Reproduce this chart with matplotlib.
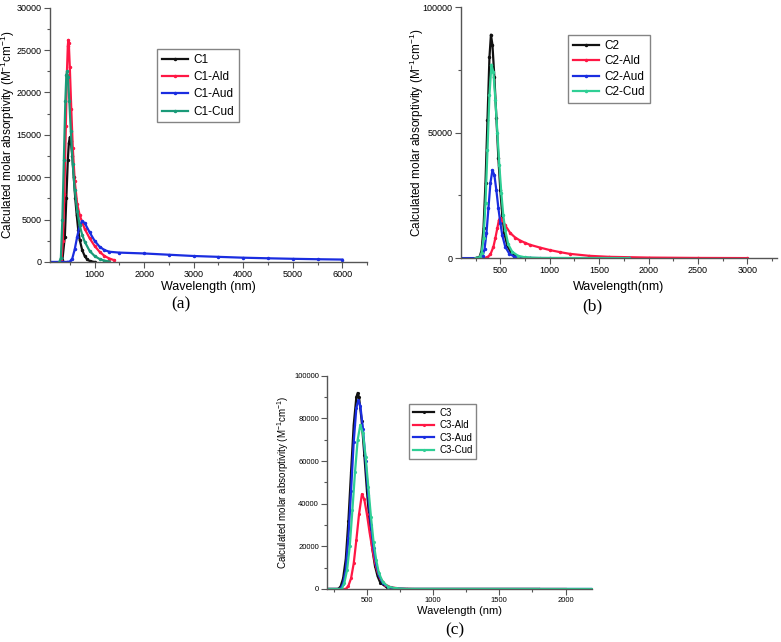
import numpy as np
import matplotlib
matplotlib.use("Agg")
import matplotlib.pyplot as plt
from matplotlib.ticker import MultipleLocator

plt.rcParams['font.family'] = ['Liberation Sans', 'DejaVu Sans']
plt.rcParams['mathtext.default'] = 'regular'

# ---- panel (a) data: wavelength (nm), absorptivity
c1_x = [300, 350, 400, 430, 460, 480, 500, 520, 550, 580, 610, 640, 670, 700, 750, 800, 850, 900, 950, 1000]
c1_y = [0, 200, 3000, 7500, 12000, 14000, 14700, 14300, 12500, 10000, 7500, 5500, 3800, 2600, 1400, 700, 300, 120, 40, 0]
c1ald_x = [300, 330, 360, 390, 420, 440, 460, 470, 480, 500, 530, 560, 600, 650, 700, 750, 800, 900, 1000, 1100, 1200, 1300, 1400]
c1ald_y = [0, 200, 2500, 8000, 16000, 22000, 25500, 26200, 25800, 23000, 18000, 13500, 9500, 6800, 5500, 4700, 3900, 2800, 1900, 1200, 700, 400, 200]
c1aud_x = [100, 450, 500, 550, 600, 650, 700, 750, 800, 900, 1000, 1100, 1200, 1300, 1500, 2000, 2500, 3000, 3500, 4000, 4500, 5000, 5500, 6000]
c1aud_y = [0, 0, 50, 400, 1500, 3000, 4300, 4800, 4600, 3500, 2500, 1800, 1400, 1200, 1100, 1000, 850, 700, 600, 500, 430, 370, 320, 280]
c1cud_x = [290, 320, 350, 380, 410, 430, 445, 460, 490, 520, 560, 600, 650, 700, 750, 800, 900, 1000, 1100, 1200, 1300]
c1cud_y = [0, 500, 5000, 12000, 19000, 22000, 22500, 21800, 19000, 15500, 11500, 8500, 6000, 4300, 3200, 2400, 1300, 700, 350, 150, 50]

# ---- panel (b)
c2_x = [250, 290, 310, 330, 350, 370, 390, 405, 420, 440, 460, 480, 500, 520, 540, 570, 610, 660, 720, 800]
c2_y = [0, 500, 3000, 12000, 30000, 55000, 80000, 89000, 85000, 72000, 56000, 40000, 27000, 17000, 10000, 5000, 2000, 700, 200, 0]
c2ald_x = [330, 370, 400, 430, 450, 470, 485, 500, 520, 550, 600, 650, 700, 750, 800, 900, 1000, 1100, 1200, 1400, 1600, 2000, 2500, 3000]
c2ald_y = [0, 300, 1500, 4500, 8000, 12000, 15000, 16000, 15200, 13000, 10000, 8200, 7000, 6100, 5300, 4200, 3200, 2400, 1700, 900, 500, 200, 60, 0]
c2aud_x = [100, 300, 320, 340, 360, 380, 400, 420, 440, 460, 480, 500, 520, 550, 590, 640, 700, 800, 1000, 1800]
c2aud_y = [0, 0, 800, 3500, 10000, 20000, 30000, 35000, 33000, 27000, 20000, 14000, 9000, 4500, 1800, 600, 200, 50, 0, 0]
c2cud_x = [250, 290, 310, 330, 350, 370, 390, 410, 430, 450, 470, 490, 510, 530, 550, 580, 620, 680, 750, 900, 1800]
c2cud_y = [0, 300, 2000, 8000, 22000, 43000, 65000, 77000, 74000, 63000, 50000, 37000, 26000, 17000, 11000, 5500, 2500, 900, 300, 50, 0]

# ---- panel (c)
c3_x = [200, 280, 300, 320, 340, 360, 380, 400, 420, 430, 440, 460, 480, 500, 520, 540, 560, 580, 600, 650, 700, 800, 1800]
c3_y = [0, 0, 1000, 5000, 14000, 32000, 55000, 77000, 90000, 92000, 90000, 79000, 63000, 46000, 31000, 19000, 11000, 6000, 3000, 700, 150, 0, 0]
c3ald_x = [200, 340, 360, 380, 400, 420, 440, 462, 480, 500, 520, 540, 560, 580, 600, 640, 680, 750, 850, 2000]
c3ald_y = [0, 0, 1500, 5000, 12000, 23000, 35000, 44500, 42000, 35000, 26500, 19000, 12500, 8000, 5000, 2000, 800, 200, 0, 0]
c3aud_x = [200, 300, 320, 340, 360, 380, 400, 420, 435, 450, 470, 490, 510, 530, 550, 570, 590, 620, 660, 720, 800, 2200]
c3aud_y = [0, 0, 2500, 9000, 24000, 46000, 69000, 85000, 88500, 86000, 75000, 60000, 44000, 30000, 19000, 11500, 6500, 2800, 900, 200, 0, 0]
c3cud_x = [200, 310, 330, 350, 370, 390, 410, 430, 450, 470, 490, 510, 530, 550, 570, 590, 620, 660, 720, 800, 2200]
c3cud_y = [0, 0, 3000, 9000, 20000, 37000, 55000, 70000, 77000, 73000, 62000, 48000, 34000, 22000, 13500, 7500, 3200, 1100, 300, 50, 0]

ylab = 'Calculated molar absorptivity (M$^{-1}$cm$^{-1}$)'
BLACK, RED, BLUE = '#111111', '#ff1744', '#1a2de0'


def style(ax, xlim, xmaj, ylim, ymaj, fs):
    for s in ['top', 'right']:
        ax.spines[s].set_visible(False)
    for s in ['left', 'bottom']:
        ax.spines[s].set_color('#555555')
        ax.spines[s].set_linewidth(1.0)
    ax.set_xlim(*xlim)
    ax.set_ylim(*ylim)
    ax.xaxis.set_major_locator(MultipleLocator(xmaj))
    ax.xaxis.set_minor_locator(MultipleLocator(xmaj / 2))
    ax.yaxis.set_major_locator(MultipleLocator(ymaj))
    ax.yaxis.set_minor_locator(MultipleLocator(ymaj / 2))
    ax.tick_params(which='major', length=4, width=0.8, color='#555555', labelsize=fs, pad=2)
    ax.tick_params(which='minor', length=2, width=0.8, color='#555555')


def draw(ax, series, labels, colors, ms):
    for (x, y), lab, col in zip(series, labels, colors):
        ax.plot(x, y, color=col, lw=1.6, marker='.', ms=ms, label=lab)


def legend(ax, xy, fs, sp):
    ax.legend(loc='upper left', bbox_to_anchor=(xy[0] / 781, 1 - xy[1] / 642), bbox_transform=fig.transFigure,
              fontsize=fs, frameon=True, fancybox=False, edgecolor='#666666', numpoints=1,
              handlelength=2.2, handletextpad=0.5, borderpad=0.4, labelspacing=sp, borderaxespad=0)


fig = plt.figure(figsize=(7.81, 6.42), dpi=100)

# (a)
ax1 = fig.add_axes([0.064, 0.592, 0.406, 0.396])
draw(ax1, [(c1_x, c1_y), (c1ald_x, c1ald_y), (c1aud_x, c1aud_y), (c1cud_x, c1cud_y)],
     ['C1', 'C1-Ald', 'C1-Aud', 'C1-Cud'], [BLACK, RED, BLUE, '#1a9a78'], 3)
style(ax1, (100, 6500), 1000, (0, 30000), 5000, 6.5)
ax1.set_xlabel('Wavelength (nm)', fontsize=9)
ax1.xaxis.set_label_coords(0.5, -0.075)
ax1.set_ylabel(ylab, fontsize=8.5)
ax1.yaxis.set_label_coords(-0.105, 0.5)
legend(ax1, (157, 49), 8.5, 0.45)
fig.text(181 / 781, 1 - 304 / 642, '(a)', family='Liberation Serif', fontsize=12.5, ha='center', va='center')

# (b)
ax2 = fig.add_axes([0.590, 0.598, 0.405, 0.391])
draw(ax2, [(c2_x, c2_y), (c2ald_x, c2ald_y), (c2aud_x, c2aud_y), (c2cud_x, c2cud_y)],
     ['C2', 'C2-Ald', 'C2-Aud', 'C2-Cud'], [BLACK, RED, BLUE, '#2fcf95'], 3)
style(ax2, (100, 3300), 500, (0, 100000), 50000, 6.5)
ax2.set_xlabel('Wavelength(nm)', fontsize=9)
ax2.xaxis.set_label_coords(0.5, -0.092)
ax2.set_ylabel(ylab, fontsize=8.5)
ax2.yaxis.set_label_coords(-0.11, 0.5)
legend(ax2, (568, 35), 8.5, 0.3)
fig.text(592 / 781, 1 - 306 / 642, '(b)', family='Liberation Serif', fontsize=12.5, ha='center', va='center')

# (c)
ax3 = fig.add_axes([0.419, 0.0826, 0.339, 0.332])
draw(ax3, [(c3_x, c3_y), (c3ald_x, c3ald_y), (c3aud_x, c3aud_y), (c3cud_x, c3cud_y)],
     ['C3', 'C3-Ald', 'C3-Aud', 'C3-Cud'], [BLACK, RED, BLUE, '#2fcf95'], 2.5)
style(ax3, (200, 2200), 500, (0, 100000), 20000, 5.5)
ax3.set_xlabel('Wavelength (nm)', fontsize=8)
ax3.xaxis.set_label_coords(0.5, -0.08)
ax3.set_ylabel(ylab, fontsize=7)
ax3.yaxis.set_label_coords(-0.136, 0.5)
legend(ax3, (409, 404), 7, 0.25)
fig.text(455 / 781, 1 - 630 / 642, '(c)', family='Liberation Serif', fontsize=12.5, ha='center', va='center')

fig.savefig('out.png', dpi=100)
